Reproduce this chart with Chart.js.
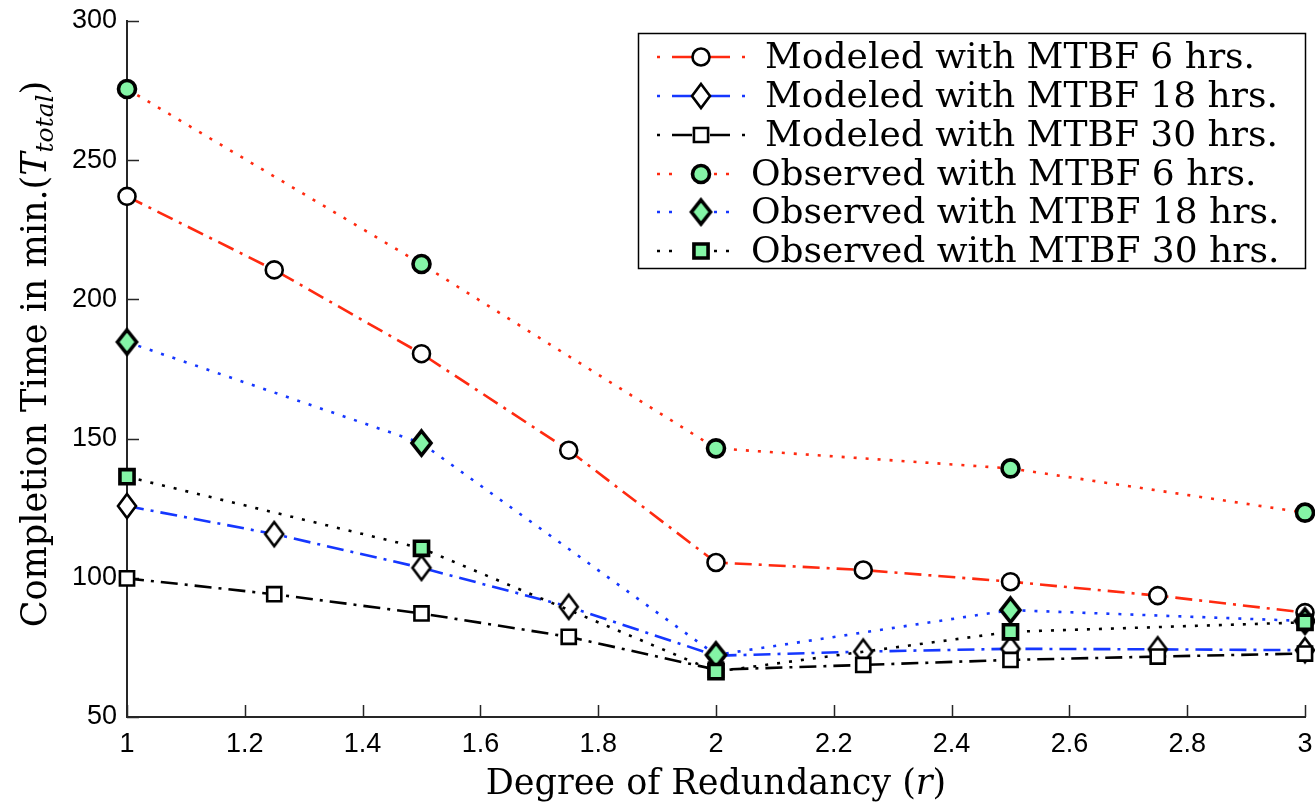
<!DOCTYPE html>
<html>
<head>
<meta charset="utf-8">
<script src="https://cdn.jsdelivr.net/npm/chart.js@4.4.0/dist/chart.umd.min.js"></script>
<style>
html, body { margin: 0; padding: 0; background: #fff; }
#wrap { width: 1315px; height: 804px; }
</style>
</head>
<body>
<div id="wrap"><canvas id="chart" width="1315" height="804"></canvas></div>
<script>
// data
var xModeled = [1, 1.25, 1.5, 1.75, 2, 2.25, 2.5, 2.75, 3];
var xObserved = [1, 1.5, 2, 2.5, 3];
var modeled6 = [237, 210.6, 180.5, 145.8, 105.5, 102.8, 98.6, 93.6, 87.5];
var modeled18 = [125.8, 115.7, 103.6, 89.6, 72, 73.5, 74.5, 74.3, 74];
var modeled30 = [99.8, 94.1, 87.2, 78.8, 67, 68.7, 70.5, 71.7, 72.8];
var observed6 = [275.6, 212.7, 146.5, 139.3, 123.4];
var observed18 = [184.7, 148.4, 72.3, 88.4, 84.5];
var observed30 = [136.3, 110.6, 66.3, 80.6, 84];
var seriesLabels = ['Modeled with MTBF 6 hrs.', 'Modeled with MTBF 18 hrs.', 'Modeled with MTBF 30 hrs.',
	'Observed with MTBF 6 hrs.', 'Observed with MTBF 18 hrs.', 'Observed with MTBF 30 hrs.'];
var xTickValues = [1, 1.2, 1.4, 1.6, 1.8, 2, 2.2, 2.4, 2.6, 2.8, 3];
var yTickValues = [50, 100, 150, 200, 250, 300];

var red = '#ff2a10';
var blue = '#1537ff';
var black = '#000000';
var green = '#84f5a6';
var axisColor = '#262626';
var serif = '"DejaVu Serif", serif';
var tickFont = { family: '"Liberation Sans", Arial, sans-serif', size: 27 };
var plotRight = 1305; // right end of the axes box

function pts(xs, ys) {
	return xs.map(function(x, i) { return { x: x, y: ys[i] }; });
}

// tall diamond marker (matlab style) drawn once into a small canvas
function makeDiamond(fill, lw, hw, hh) {
	var c = document.createElement('canvas');
	c.width = Math.ceil(2 * hw + 2 * lw + 2);
	c.height = Math.ceil(2 * hh + 2 * lw + 2);
	var g = c.getContext('2d');
	var cx = c.width / 2, cy = c.height / 2;
	g.beginPath();
	g.moveTo(cx, cy - hh); g.lineTo(cx + hw, cy); g.lineTo(cx, cy + hh); g.lineTo(cx - hw, cy);
	g.closePath();
	g.fillStyle = fill; g.fill();
	g.lineWidth = lw; g.lineJoin = 'miter'; g.strokeStyle = '#000'; g.stroke();
	return c;
}
var openDiamond = makeDiamond('#fff', 2.6, 9, 12);
var greenDiamond = makeDiamond(green, 3.6, 9.5, 12);

function modeledSet(label, xs, ys, color, shape, radius, ord) {
	return {
		label: label, data: pts(xs, ys), order: ord,
		borderColor: color, borderWidth: 2.6, borderDash: [17, 7, 3, 7],
		legendDash: [3, 12, 20, 18, 20, 12, 3, 200],
		pointStyle: shape, pointRadius: radius, pointHoverRadius: radius,
		pointBorderWidth: 2.6, pointBorderColor: '#000', pointBackgroundColor: '#fff',
		fill: false, tension: 0, clip: false
	};
}
function observedSet(label, xs, ys, color, shape, radius, ord) {
	return {
		label: label, data: pts(xs, ys), order: ord,
		borderColor: color, borderWidth: 2.6, borderDash: [3, 9],
		legendDash: [3, 9, 3, 42, 3, 9, 3, 200],
		pointStyle: shape, pointRadius: radius, pointHoverRadius: radius,
		pointBorderWidth: 3.6, pointBorderColor: '#000', pointBackgroundColor: green,
		fill: false, tension: 0, clip: false
	};
}

// marker drawing for the legend
function drawMarker(ctx, shape, r, x, y) {
	if (shape instanceof HTMLCanvasElement) {
		ctx.drawImage(shape, x - shape.width / 2, y - shape.height / 2);
		return;
	}
	ctx.beginPath();
	if (shape === 'circle') {
		ctx.arc(x, y, r, 0, Math.PI * 2);
	} else {
		var s = Math.SQRT1_2 * r;
		ctx.rect(x - s, y - s, 2 * s, 2 * s);
	}
	ctx.closePath();
	ctx.fill();
	ctx.stroke();
}

var decorations = {
	id: 'decorations',
	afterLayout: function(chart) {
		// stretch the x axis out to the right edge like the original figure
		var xs = chart.scales.x;
		if (chart.chartArea.right !== plotRight) {
			chart.chartArea.right = plotRight;
			chart.chartArea.width = plotRight - chart.chartArea.left;
			xs.right = plotRight;
			xs.width = plotRight - xs.left;
			xs.configure();
		}
	},
	beforeDatasetsDraw: function(chart) {
		// inward tick marks
		var ctx = chart.ctx, a = chart.chartArea;
		var xs = chart.scales.x, ys = chart.scales.y;
		ctx.save();
		ctx.strokeStyle = axisColor;
		ctx.lineWidth = 1.5;
		ctx.beginPath();
		yTickValues.forEach(function(v) {
			var py = Math.round(ys.getPixelForValue(v)) + 0.5;
			ctx.moveTo(a.left, py); ctx.lineTo(a.left + 12, py);
		});
		xTickValues.forEach(function(v) {
			var px = Math.round(xs.getPixelForValue(v)) + 0.5;
			ctx.moveTo(px, a.bottom); ctx.lineTo(px, a.bottom - 12);
		});
		ctx.stroke();
		ctx.restore();
	},
	afterDraw: function(chart) {
		var ctx = chart.ctx, a = chart.chartArea;
		ctx.save();
		ctx.fillStyle = '#000';
		ctx.textBaseline = 'alphabetic';

		// x title
		var xParts = [
			{ t: 'Degree of Redundancy (', f: '35px ' + serif },
			{ t: 'r', f: 'italic 35px ' + serif },
			{ t: ')', f: '35px ' + serif }
		];
		var w = 0;
		xParts.forEach(function(p) { ctx.font = p.f; p.w = ctx.measureText(p.t).width; w += p.w; });
		var cx = (a.left + a.right) / 2 - w / 2;
		xParts.forEach(function(p) { ctx.font = p.f; ctx.fillText(p.t, cx, 794); cx += p.w; });

		// y title with subscript
		var yParts = [
			{ t: 'Completion Time in min.(', f: '35px ' + serif, dy: 0 },
			{ t: 'T', f: 'italic 35px ' + serif, dy: 0 },
			{ t: 'total', f: 'italic 25px ' + serif, dy: 7 },
			{ t: ')', f: '35px ' + serif, dy: 0 }
		];
		w = 0;
		yParts.forEach(function(p) { ctx.font = p.f; p.w = ctx.measureText(p.t).width; w += p.w; });
		ctx.translate(46, 354);
		ctx.rotate(-Math.PI / 2);
		var tx = -w / 2;
		yParts.forEach(function(p) { ctx.font = p.f; ctx.fillText(p.t, tx, p.dy); tx += p.w; });
		ctx.restore();

		// legend box
		ctx.save();
		var bx = 638, by = 33, bw = 667, bh = 235;
		ctx.fillStyle = '#fff';
		ctx.fillRect(bx, by, bw, bh);
		ctx.strokeStyle = '#000';
		ctx.lineWidth = 1.5;
		ctx.strokeRect(bx + 0.5, by + 0.5, bw, bh);
		var rowY = [57, 96, 135, 174, 212, 251];
		chart.data.datasets.forEach(function(ds, i) {
			var y = rowY[i];
			ctx.save();
			ctx.strokeStyle = ds.borderColor;
			ctx.lineWidth = ds.borderWidth;
			ctx.setLineDash(ds.legendDash);
			ctx.beginPath();
			ctx.moveTo(657, y); ctx.lineTo(746, y);
			ctx.stroke();
			ctx.setLineDash([]);
			ctx.fillStyle = ds.pointBackgroundColor;
			ctx.strokeStyle = ds.pointBorderColor;
			ctx.lineWidth = ds.pointBorderWidth;
			drawMarker(ctx, ds.pointStyle, ds.pointRadius, 701, y);
			ctx.restore();
			ctx.fillStyle = '#000';
			ctx.font = '36px ' + serif;
			ctx.textBaseline = 'middle';
			ctx.fillText(ds.label, i < 3 ? 765 : 751, y + 2);
		});
		ctx.restore();
	}
};

var ctx = document.getElementById('chart');
var chart = new Chart(ctx, {
	type: 'line',
	data: {
		datasets: [
			modeledSet(seriesLabels[0], xModeled, modeled6, red, 'circle', 8.5, 6),
			modeledSet(seriesLabels[1], xModeled, modeled18, blue, openDiamond, 11, 5),
			modeledSet(seriesLabels[2], xModeled, modeled30, black, 'rect', 10, 4),
			observedSet(seriesLabels[3], xObserved, observed6, red, 'circle', 8.5, 3),
			observedSet(seriesLabels[4], xObserved, observed18, blue, greenDiamond, 11, 2),
			observedSet(seriesLabels[5], xObserved, observed30, black, 'rect', 10, 1)
		]
	},
	options: {
		responsive: false,
		animation: false,
		events: [],
		layout: { padding: { left: 0, top: 21, right: 10, bottom: 0 } },
		plugins: { legend: { display: false }, tooltip: { enabled: false } },
		scales: {
			x: {
				type: 'linear', min: 1, max: 3,
				afterBuildTicks: function(s) { s.ticks = xTickValues.map(function(v) { return { value: v }; }); },
				afterFit: function(s) { s.height = 87; s.paddingLeft = 0; s.paddingRight = 0; },
				grid: { display: false, drawTicks: false },
				border: { display: true, color: axisColor, width: 2 },
				ticks: {
					color: '#000', padding: 11, maxRotation: 0, autoSkip: false, font: tickFont,
					callback: function(v) { return String(+v.toFixed(1)); }
				}
			},
			y: {
				type: 'linear', min: 50, max: 300,
				afterBuildTicks: function(s) { s.ticks = yTickValues.map(function(v) { return { value: v }; }); },
				afterFit: function(s) { s.width = 127; s.paddingTop = 0; s.paddingBottom = 0; },
				grid: { display: false, drawTicks: false },
				border: { display: true, color: axisColor, width: 2 },
				ticks: { color: '#000', padding: 10, autoSkip: false, font: tickFont }
			}
		}
	},
	plugins: [decorations]
});
</script>
</body>
</html>
